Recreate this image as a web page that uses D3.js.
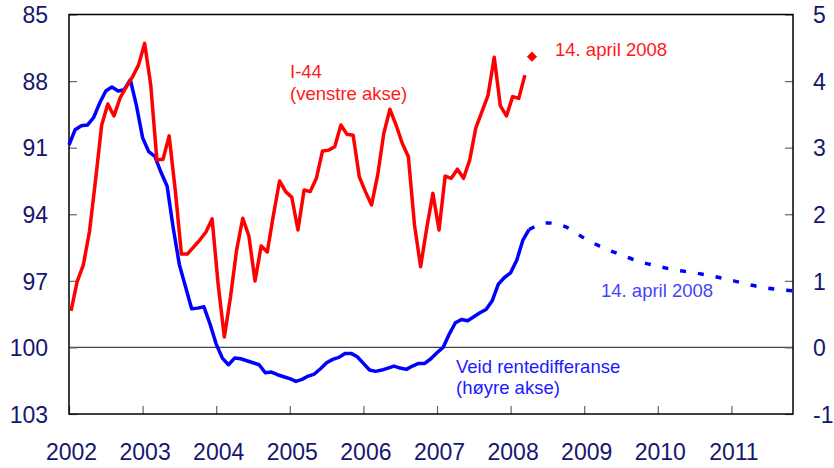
<!DOCTYPE html>
<html>
<head>
<meta charset="utf-8">
<script src="https://cdn.jsdelivr.net/npm/d3@7"></script>
<style>
  body { margin: 0; background: #fff; }
  svg { display: block; font-family: "Liberation Sans", Arial, sans-serif; }
</style>
</head>
<body>
<svg width="834" height="468"></svg>
<script>
// I-44, monthly from Jan 2002 (left axis, inverted)
var i44 = [98.35, 97.04, 96.29, 94.80, 92.46, 89.98, 89.03, 89.57, 88.76, 88.27, 87.82, 87.28,
  86.30, 88.18, 91.56, 91.52, 90.47, 92.93, 95.79, 95.79, 95.47, 95.16, 94.80, 94.21,
  97.19, 99.53, 97.73, 95.61, 94.18, 94.98, 97.01, 95.43, 95.70, 94.03, 92.50, 92.98,
  93.24, 94.71, 92.91, 92.98, 92.38, 91.15, 91.11, 90.96, 89.98, 90.40, 90.44, 92.31,
  92.98, 93.58, 92.23, 90.35, 89.27, 89.98, 90.80, 91.41, 94.48, 96.36, 94.62, 93.06,
  94.71, 92.28, 92.38, 91.97, 92.38, 91.56, 90.11, 89.38, 88.63, 86.93, 89.12, 89.57,
  88.70, 88.78, 87.73];

// weighted interest differential, monthly from Jan 2002 (right axis)
var rentediff = [3.04, 3.27, 3.33, 3.34, 3.45, 3.67, 3.85, 3.91, 3.85, 3.87, 4.02, 3.63,
  3.15, 2.94, 2.87, 2.63, 2.42, 1.79, 1.24, 0.91, 0.58, 0.59, 0.61, 0.35,
  0.05, -0.16, -0.26, -0.16, -0.17, -0.20, -0.23, -0.26, -0.38, -0.37, -0.41, -0.44,
  -0.47, -0.51, -0.48, -0.43, -0.40, -0.32, -0.23, -0.18, -0.15, -0.09, -0.09, -0.14,
  -0.24, -0.34, -0.36, -0.34, -0.31, -0.28, -0.31, -0.33, -0.28, -0.24, -0.24, -0.17,
  -0.08, 0.00, 0.20, 0.37, 0.42, 0.40, 0.46, 0.52, 0.57, 0.70, 0.95, 1.05,
  1.12, 1.31, 1.61, 1.77];

// forward differential from 14 april 2008
var fwdTime = [2008.25, 2008.5, 2008.75, 2009.0, 2009.25, 2009.5, 2009.75, 2010.0,
  2010.25, 2010.5, 2010.75, 2011.0, 2011.25, 2011.5, 2011.75, 2011.837];
var fwdValue = [1.77, 1.87, 1.81, 1.64, 1.50, 1.39, 1.29, 1.22,
  1.16, 1.12, 1.07, 1.01, 0.94, 0.89, 0.86, 0.85];

// forward I-44 point, 14 april 2008
var fwdI44 = {t: 2008.29, v: 86.90};

var leftTicks = [85, 88, 91, 94, 97, 100, 103];
var rightTicks = [5, 4, 3, 2, 1, 0, -1];
var yearTicks = [2002, 2003, 2004, 2005, 2006, 2007, 2008, 2009, 2010, 2011];

var width = 834, height = 468;
var margin = {left: 69, right: 41, top: 14.5, bottom: 54};
var navy = "#16166e";

var x = d3.scaleLinear().domain([2002, 2011.837]).range([margin.left, width - margin.right]);
var yL = d3.scaleLinear().domain([85, 103]).range([margin.top, height - margin.bottom]);
var yR = d3.scaleLinear().domain([5, -1]).range([margin.top, height - margin.bottom]);

var svg = d3.select("svg");

// zero line
svg.append("line")
  .attr("x1", x.range()[0]).attr("x2", x.range()[1])
  .attr("y1", yR(0)).attr("y2", yR(0))
  .attr("stroke", "#444").attr("stroke-width", 1.2);

function plain(d) { return String(d); }

// axes
var axL = svg.append("g")
  .attr("transform", "translate(" + margin.left + ",0)")
  .call(d3.axisLeft(yL).tickValues(leftTicks).tickFormat(plain).tickSize(-8).tickPadding(21));
var axR = svg.append("g")
  .attr("transform", "translate(" + (width - margin.right) + ",0)")
  .call(d3.axisRight(yR).tickValues(rightTicks).tickFormat(plain).tickSize(-8).tickPadding(20));
var axB = svg.append("g")
  .attr("transform", "translate(0," + (height - margin.bottom) + ")")
  .call(d3.axisBottom(x).tickValues(yearTicks).tickFormat(plain).tickSize(-8).tickPadding(30));

[axL, axR, axB].forEach(function (g) {
  g.select(".domain").remove();
  g.selectAll(".tick line").attr("stroke", "#666").attr("stroke-width", 1.2);
  g.selectAll(".tick text")
    .attr("fill", navy)
    .style("font-size", "23px")
    .style("font-family", "'Liberation Sans', Arial, sans-serif");
});
axL.selectAll(".tick text").attr("dy", "0.36em");
axR.selectAll(".tick text").attr("dy", "0.36em");
axB.selectAll(".tick text").attr("dy", "0.71em").attr("dx", 2);

// frame
svg.append("rect")
  .attr("x", margin.left).attr("y", margin.top)
  .attr("width", x.range()[1] - margin.left)
  .attr("height", yL.range()[1] - margin.top)
  .attr("fill", "none").attr("stroke", "#000").attr("stroke-width", 1.5);

// lines
var redLine = d3.line()
  .x(function (d, i) { return x(2002 + (i + 0.33) / 12); })
  .y(function (d) { return yL(d); });
var blueLine = d3.line()
  .x(function (d, i) { return x(2002 + i / 12); })
  .y(function (d) { return yR(d); });
var fwdLine = d3.line()
  .x(function (d) { return x(d[0]); })
  .y(function (d) { return yR(d[1]); })
  .curve(d3.curveMonotoneX);

svg.append("path").datum(rentediff)
  .attr("d", blueLine)
  .attr("fill", "none").attr("stroke", "#0000ff")
  .attr("stroke-width", 3.5).attr("stroke-linejoin", "round");

svg.append("path").datum(d3.zip(fwdTime, fwdValue))
  .attr("d", fwdLine)
  .attr("fill", "none").attr("stroke", "#0000ff")
  .attr("stroke-width", 3.5).attr("stroke-dasharray", "6,12");

svg.append("path").datum(i44)
  .attr("d", redLine)
  .attr("fill", "none").attr("stroke", "#ff0000")
  .attr("stroke-width", 3.5).attr("stroke-linejoin", "round");

svg.append("path")
  .attr("d", d3.symbol(d3.symbolSquare, 52)())
  .attr("transform", "translate(" + x(fwdI44.t) + "," + yL(fwdI44.v) + ") rotate(45)")
  .attr("fill", "#ff0000");

// labels
function label(txt, px, py, col) {
  svg.append("text")
    .attr("x", px).attr("y", py)
    .attr("fill", col)
    .style("font-size", "18.5px")
    .text(txt);
}
label("I-44", 290, 78, "#ff1a1a");
label("(venstre akse)", 290, 100, "#ff1a1a");
label("14. april 2008", 555, 56, "#ff1a1a");
label("Veid rentedifferanse", 456, 373, "#1a1aff");
label("(høyre akse)", 456, 394, "#1a1aff");
label("14. april 2008", 601, 297, "#4444ff");
</script>
</body>
</html>
